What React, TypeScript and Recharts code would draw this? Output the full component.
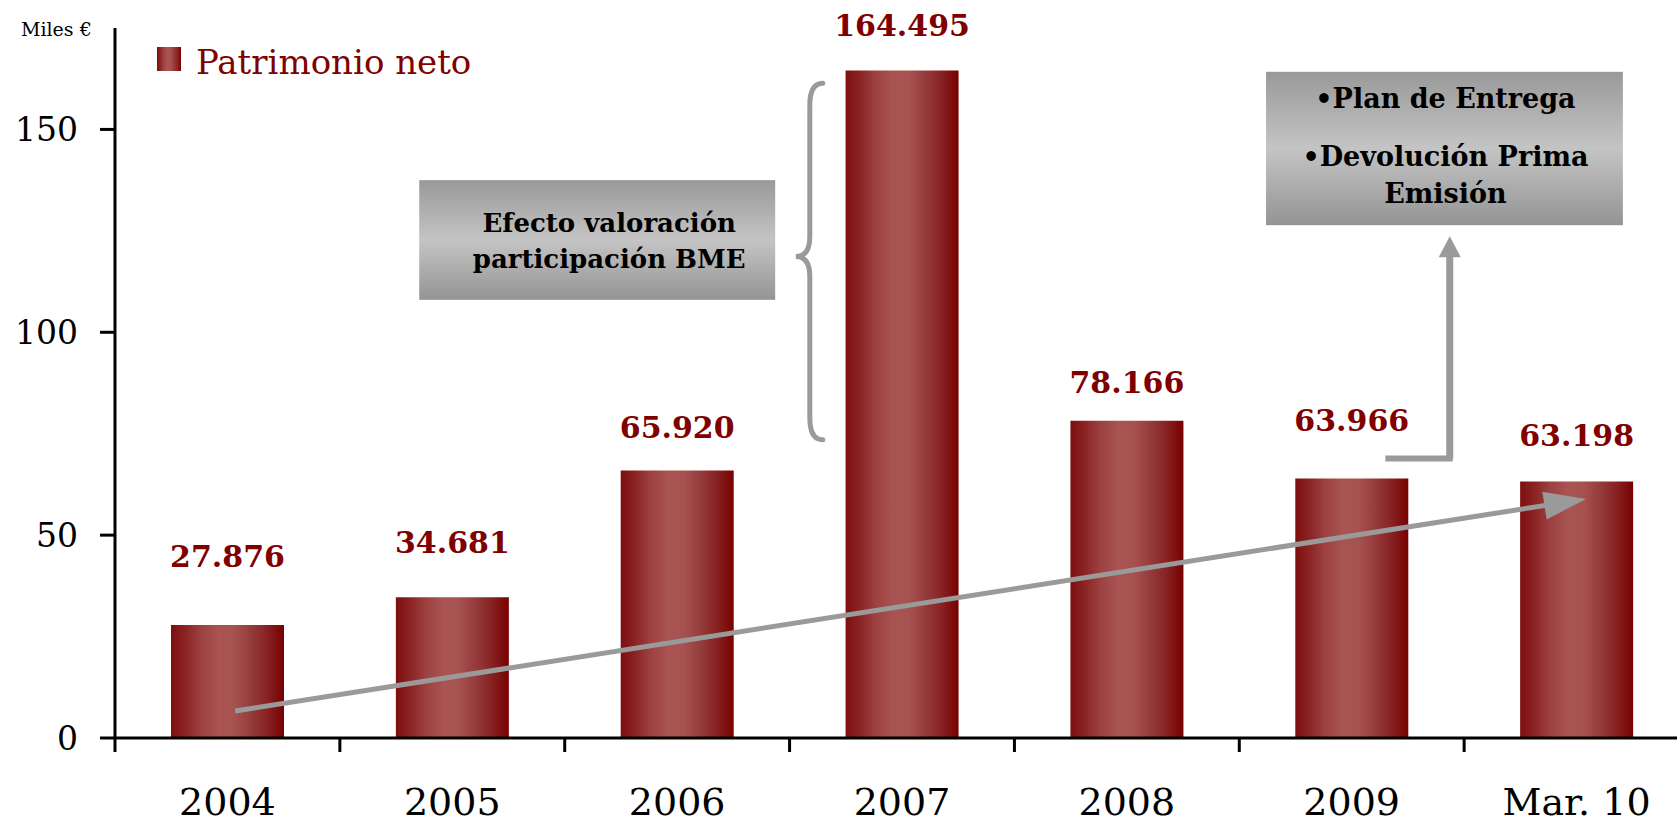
import React from "react";
import { Bar, BarChart, LabelList, ReferenceArea, ReferenceLine, XAxis, YAxis } from "recharts";

// Patrimonio neto (miles de €)
const years = ["2004", "2005", "2006", "2007", "2008", "2009", "Mar. 10"];
const patrimonio = [27.876, 34.681, 65.92, 164.495, 78.166, 63.966, 63.198];
const yTicks = [0, 50, 100, 150];
const bandEdges = [0, 1, 2, 3, 4, 5, 6, 7];

// how far each value label sits above its bar (px)
const labelLift = [69, 55, 43, 45, 39, 58, 46];

const boxBME = ["Efecto valoración", "participación BME"];
const boxPlan = ["•Plan de Entrega", "•Devolución Prima", "Emisión"];

// pos = centre of each category on a 0..7 linear scale (used for annotations)
const data = years.map((year, i) => ({ year, value: patrimonio[i], pos: i + 0.5 }));

const SERIF = "'DejaVu Serif', serif";
const RED = "#800000";
const GREY = "#9a9a9a";

function ValueLabel(props: any) {
  const { x, y, width, index, value } = props;
  return (
    <text
      x={x + width / 2}
      y={y - labelLift[index]}
      dy="0.36em"
      textAnchor="middle"
      fontFamily={SERIF}
      fontWeight="bold"
      fontSize={30}
      fill={RED}
    >
      {Number(value).toFixed(3)}
    </text>
  );
}

function arrowShape(width: number, headLen: number, headHalf: number) {
  return (p: any) => {
    const { x1, y1, x2, y2 } = p;
    const dx = x2 - x1, dy = y2 - y1;
    const len = Math.sqrt(dx * dx + dy * dy) || 1;
    const ux = dx / len, uy = dy / len;
    const bx = x2 - ux * headLen, by = y2 - uy * headLen;
    const nx = -uy, ny = ux;
    return (
      <g>
        <line x1={x1} y1={y1} x2={bx + ux} y2={by + uy} stroke={GREY} strokeWidth={width} />
        <polygon
          points={`${x2},${y2} ${bx + nx * headHalf},${by + ny * headHalf} ${bx - nx * headHalf},${by - ny * headHalf}`}
          fill={GREY}
        />
      </g>
    );
  };
}

function braceShape(p: any) {
  const { x1, y1, y2 } = p;
  const top = Math.min(y1, y2), bot = Math.max(y1, y2);
  const mid = (top + bot) / 2 - 5;
  const x = x1;
  const d = `M ${x + 13} ${top} Q ${x} ${top} ${x} ${top + 22} L ${x} ${mid - 20} Q ${x} ${mid} ${x - 14} ${mid} Q ${x} ${mid} ${x} ${mid + 20} L ${x} ${bot - 22} Q ${x} ${bot} ${x + 13} ${bot}`;
  return <path d={d} fill="none" stroke={GREY} strokeWidth={5} strokeLinecap="round" />;
}

function boxShape(lines: string[], baselines: number[], size: number, shiftX: number) {
  return (p: any) => {
    const { x, y, width, height } = p;
    return (
      <g>
        <rect x={x} y={y} width={width} height={height} fill="url(#boxGrad)" />
        {lines.map((t, i) => (
          <text
            key={t}
            x={x + width / 2 + shiftX}
            y={y + baselines[i]}
            textAnchor="middle"
            fontFamily={SERIF}
            fontWeight="bold"
            fontSize={size}
            fill="#000"
          >
            {t}
          </text>
        ))}
      </g>
    );
  };
}

const noTick = () => <g />;

const barGradCss =
  "linear-gradient(to right, #7d0e0e 0%, #8a2222 12%, #9c4040 26%, #a85452 42%, #a65250 56%, #94393a 72%, #8a2424 86%, #7a0000 100%)";

export default function App() {
  return (
    <div style={{ position: "absolute", left: 0, top: 0, width: 1677, height: 821, overflow: "hidden", background: "#fff" }}>
      <BarChart width={1694} height={821} data={data} margin={{ top: 28, right: 5, bottom: 0, left: 0 }}>
        <defs>
          <linearGradient id="barGrad" x1="0" y1="0" x2="1" y2="0">
            <stop offset="0%" stopColor="#7d0e0e" />
            <stop offset="12%" stopColor="#8a2222" />
            <stop offset="26%" stopColor="#9c4040" />
            <stop offset="42%" stopColor="#a85452" />
            <stop offset="56%" stopColor="#a65250" />
            <stop offset="72%" stopColor="#94393a" />
            <stop offset="86%" stopColor="#862020" />
            <stop offset="100%" stopColor="#780000" />
          </linearGradient>
          <linearGradient id="boxGrad" x1="0" y1="0" x2="0" y2="1">
            <stop offset="0%" stopColor="#999999" />
            <stop offset="50%" stopColor="#c4c4c4" />
            <stop offset="100%" stopColor="#949494" />
          </linearGradient>
        </defs>
        <XAxis
          xAxisId="b"
          dataKey="year"
          interval={0}
          height={82}
          axisLine={false}
          tickLine={false}
          tickSize={0}
          tickMargin={49}
          tick={{ fontFamily: SERIF, fontSize: 38, fill: "#000" }}
        />
        <XAxis
          xAxisId="a"
          type="number"
          dataKey="pos"
          domain={[0, 7]}
          ticks={bandEdges}
          tick={noTick}
          height={1}
          tickSize={14}
          axisLine={{ stroke: "#000", strokeWidth: 3 }}
          tickLine={{ stroke: "#000", strokeWidth: 3 }}
          allowDataOverflow
        />
        <YAxis
          width={115}
          domain={[0, 175]}
          ticks={yTicks}
          tickSize={15}
          tickMargin={22}
          axisLine={{ stroke: "#000", strokeWidth: 3 }}
          tickLine={{ stroke: "#000", strokeWidth: 3 }}
          tick={{ fontFamily: SERIF, fontSize: 33, fill: "#000" }}
        />
        <Bar xAxisId="b" dataKey="value" fill="url(#barGrad)" barSize={113} isAnimationActive={false}>
          <LabelList dataKey="value" content={<ValueLabel />} />
        </Bar>
        <ReferenceArea xAxisId="a" x1={1.353} x2={2.936} y1={108} y2={137.5} ifOverflow="visible"
          shape={boxShape(boxBME, [52, 88], 26, 12)} />
        <ReferenceArea xAxisId="a" x1={5.119} x2={6.706} y1={126.4} y2={164.2} ifOverflow="visible"
          shape={boxShape(boxPlan, [36, 94, 131], 27, 1)} />
        <ReferenceLine xAxisId="a" ifOverflow="visible"
          segment={[{ x: 3.09, y: 161.4 }, { x: 3.09, y: 73.5 }]} shape={braceShape} />
        <ReferenceLine xAxisId="a" ifOverflow="visible"
          segment={[{ x: 0.534, y: 6.65 }, { x: 6.542, y: 58.9 }]} shape={arrowShape(5, 42, 14)} />
        <ReferenceLine xAxisId="a" ifOverflow="visible" stroke={GREY} strokeWidth={6} strokeLinecap="square"
          segment={[{ x: 5.663, y: 68.9 }, { x: 5.936, y: 68.9 }]} />
        <ReferenceLine xAxisId="a" ifOverflow="visible"
          segment={[{ x: 5.936, y: 68.9 }, { x: 5.936, y: 123.7 }]} shape={arrowShape(7, 21, 11)} />
      </BarChart>
      <div style={{ position: "absolute", left: 21, top: 20, fontFamily: SERIF, fontSize: 19, lineHeight: "19px", color: "#000" }}>
        Miles €
      </div>
      <div style={{ position: "absolute", left: 157, top: 47, width: 24, height: 24, background: barGradCss }} />
      <div style={{ position: "absolute", left: 196, top: 45, fontFamily: SERIF, fontSize: 34, lineHeight: "34px", color: RED, whiteSpace: "nowrap" }}>
        Patrimonio neto
      </div>
    </div>
  );
}
